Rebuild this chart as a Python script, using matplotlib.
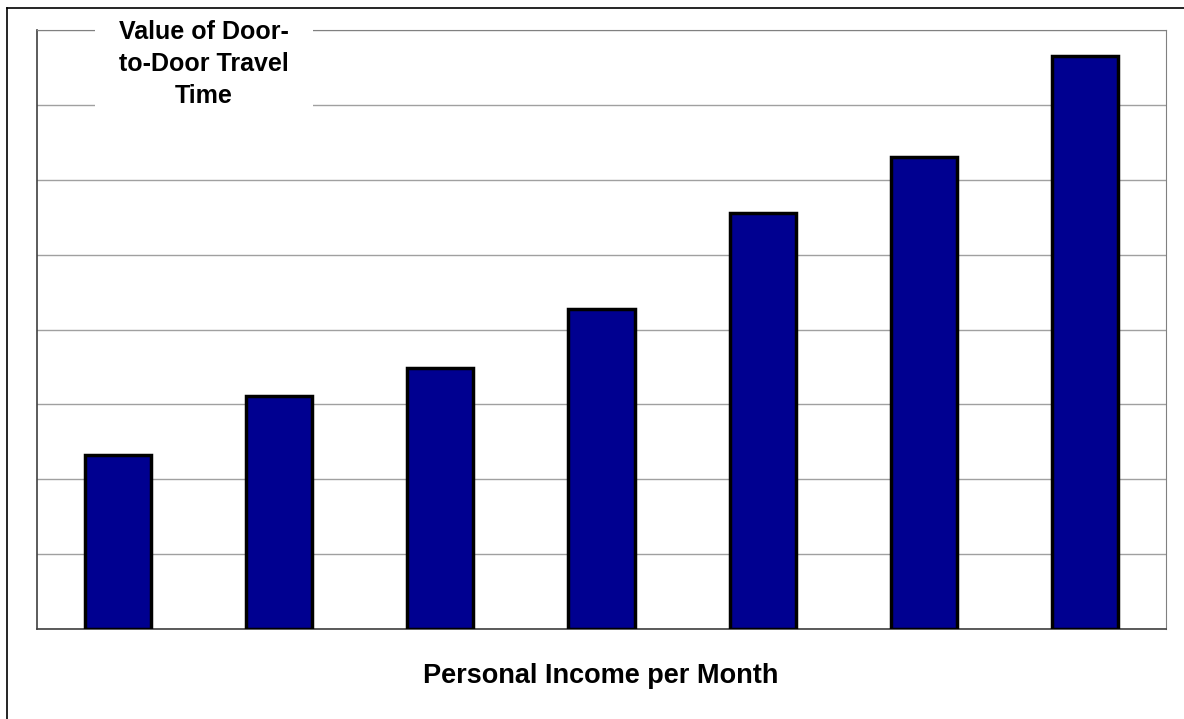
import matplotlib.pyplot as plt
from matplotlib.lines import Line2D
from matplotlib.patches import Rectangle

plt.rcParams['font.family'] = ['Liberation Sans', 'DejaVu Sans']

categories = ['1', '2', '3', '4', '5', '6', '7']
values = [2.33, 3.11, 3.49, 4.28, 5.56, 6.31, 7.65]

W, H = 1184, 719
fig = plt.figure(figsize=(W / 100, H / 100), dpi=100)
ax = fig.add_axes([37 / W, 1 - 629 / H, 1129 / W, 599 / H])

x = range(len(categories))
ax.bar(x, values, width=0.41, color='#000090', edgecolor='black', linewidth=2.5, zorder=3)

ax.set_xlim(-0.5, len(categories) - 0.5)
ax.set_ylim(0, 8)
ax.set_yticks(range(0, 9))
ax.set_xticks([])
ax.tick_params(left=False, labelleft=False)
ax.grid(axis='y', color='#a0a0a0', linewidth=1, zorder=0)

for side in ['top', 'right']:
    ax.spines[side].set_color('#808080')
for side in ['left', 'bottom']:
    ax.spines[side].set_color('#404040')
    ax.spines[side].set_linewidth(1.2)

# outer chart frame (only left and top edges visible)
fig.add_artist(Line2D([7 / W, 7 / W], [0, 1 - 8 / H], color='black', linewidth=1.2))
fig.add_artist(Line2D([7 / W, 1], [1 - 8 / H, 1 - 8 / H], color='black', linewidth=1.2))

# white box behind the axis title
fig.add_artist(Rectangle((95 / W, 1 - 124 / H), 218 / W, 110 / H, transform=fig.transFigure,
                         facecolor='white', edgecolor='none', zorder=4))
fig.text(204 / W, 1 - 64 / H, 'Value of Door-\nto-Door Travel\nTime', ha='center', va='center',
         fontsize=18, fontweight='bold', linespacing=1.42, zorder=5)

fig.text(601 / W, 1 - 676 / H, 'Personal Income per Month', ha='center', va='center',
         fontsize=19.5, fontweight='bold')

fig.savefig('out.png', dpi=100)
